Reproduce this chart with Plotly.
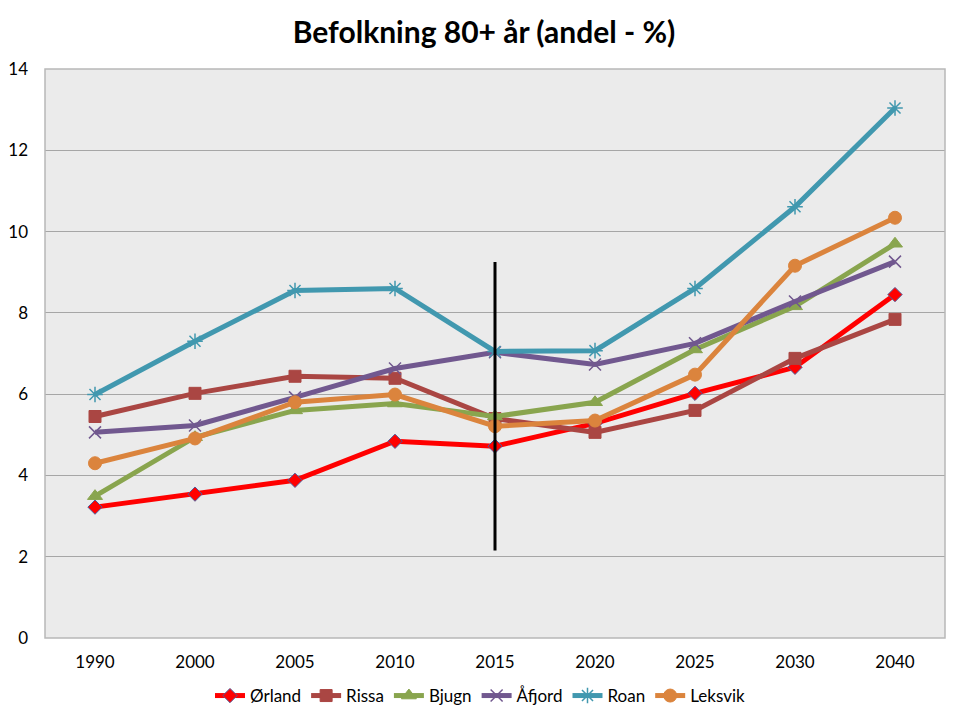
import plotly.graph_objects as go

years = ["1990", "2000", "2005", "2010", "2015", "2020", "2025", "2030", "2040"]
orland = [3.22, 3.54, 3.88, 4.84, 4.72, 5.28, 6.02, 6.66, 8.45]
rissa = [5.45, 6.02, 6.44, 6.39, 5.40, 5.06, 5.60, 6.88, 7.84]
bjugn = [3.49, 4.94, 5.60, 5.77, 5.45, 5.80, 7.10, 8.16, 9.70]
afjord = [5.06, 5.23, 5.92, 6.63, 7.03, 6.73, 7.25, 8.28, 9.26]
roan = [5.99, 7.30, 8.55, 8.60, 7.05, 7.07, 8.60, 10.61, 13.04]
leksvik = [4.30, 4.91, 5.80, 5.99, 5.21, 5.35, 6.48, 9.16, 10.34]

marker_year = ["2015", "2015"]
marker_range = [9.25, 2.15]

FONT = "Lato"
W, H = 952, 712  # page body has an 8px margin

fig = go.Figure()

series = [
    ("Ørland", orland, "#FF0000", dict(symbol="diamond", size=11, color="#FF0000",
                                         line=dict(color="#4F5C9A", width=1))),
    ("Rissa", rissa, "#AA4643", dict(symbol="square", size=12, color="#AA4643",
                                       line=dict(color="#AA4643", width=1))),
    ("Bjugn", bjugn, "#89A54E", dict(symbol="triangle-up", size=13, color="#89A54E",
                                       line=dict(color="#89A54E", width=1))),
    ("Åfjord", afjord, "#71588F", dict(symbol="x-thin-open", size=12, color="#71588F",
                                         line=dict(color="#71588F", width=1.5))),
    ("Roan", roan, "#4198AF", dict(symbol="asterisk-open", size=13, color="#4198AF",
                                     line=dict(color="#4198AF", width=1.5))),
    ("Leksvik", leksvik, "#DB843D", dict(symbol="circle", size=13, color="#DB843D",
                                           line=dict(color="#DB843D", width=1))),
]

for name, vals, col, mk in series:
    fig.add_trace(go.Scatter(
        x=years, y=vals, name=name, mode="lines+markers",
        line=dict(color=col, width=5), marker=mk,
    ))

fig.add_trace(go.Scatter(
    x=marker_year, y=marker_range, mode="lines",
    line=dict(color="black", width=3), showlegend=False, hoverinfo="skip",
))

fig.update_layout(
    width=W, height=H,
    margin=dict(l=37, r=15, t=61, b=82, autoexpand=False),
    paper_bgcolor="white",
    plot_bgcolor="#EBEBEB",
    font=dict(family=FONT, size=16, color="black"),
    title=dict(text="<b>Befolkning 80+ år (andel - %)</b>", x=0.5, xanchor="center",
               y=1 - 24 / H, yanchor="middle", yref="container",
               font=dict(family=FONT, size=30, color="black")),
    legend=dict(orientation="h", x=(480 - 8) / W, xanchor="center", xref="container",
                y=1 - 688 / H, yanchor="middle", yref="container", font=dict(size=17),
                bgcolor="rgba(0,0,0,0)", itemwidth=30, tracegroupgap=0),
    showlegend=True,
    shapes=[dict(type="rect", xref="paper", yref="paper", x0=0, x1=1, y0=0, y1=1,
                 line=dict(color="#B8B8B8", width=1.5), layer="above")],
)

fig.update_xaxes(type="category", range=[-0.5, 8.5], showgrid=False, zeroline=False,
                 showline=False, ticks="", tickfont=dict(size=17), ticklabelstandoff=12,
                 automargin=False)
fig.update_yaxes(range=[0, 14], dtick=2, showgrid=True, gridcolor="#A6A6A6", gridwidth=1,
                 zeroline=False, showline=False, ticks="", tickfont=dict(size=17),
                 ticklabelstandoff=16, automargin=False)

fig.write_html("out.html")
